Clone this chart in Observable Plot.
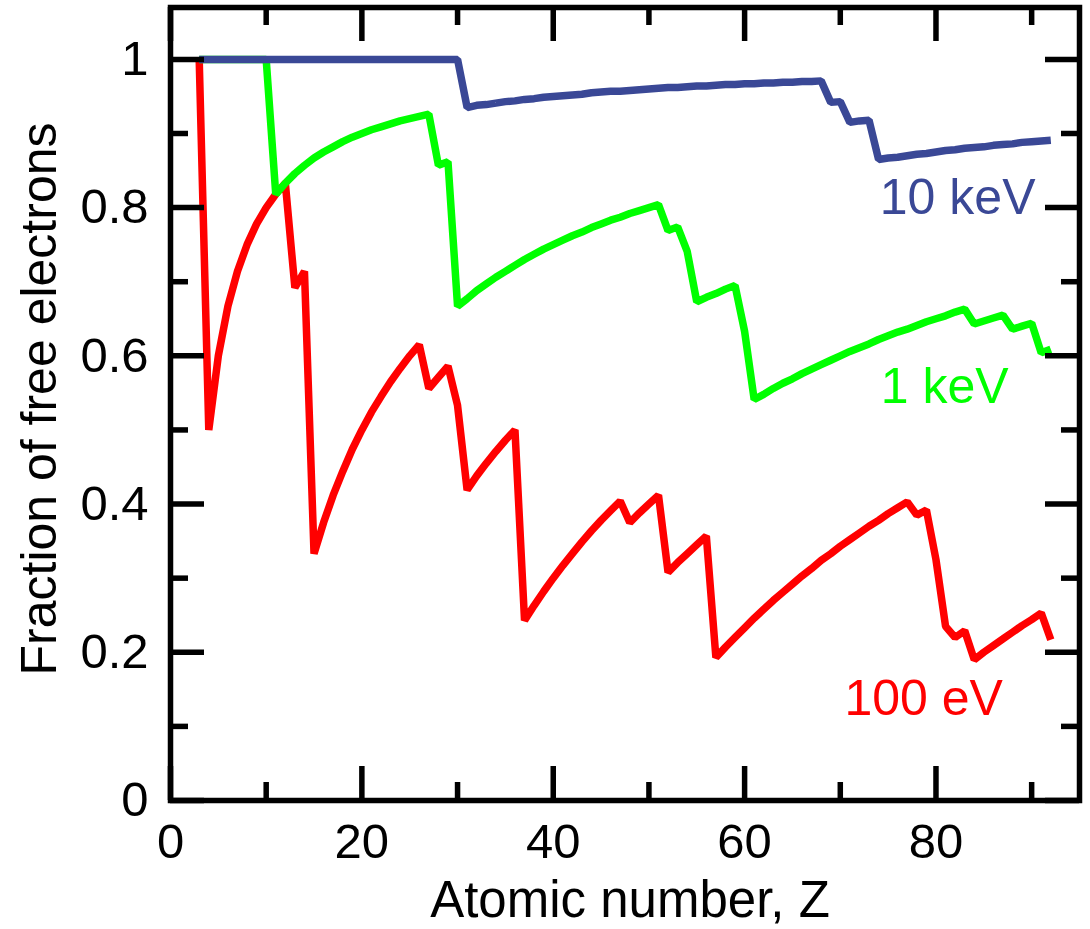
<!DOCTYPE html>
<html>
<head>
<meta charset="utf-8">
<script src="https://cdn.jsdelivr.net/npm/d3@7"></script>
<script src="https://cdn.jsdelivr.net/npm/@observablehq/plot@0.6"></script>
<style>
  html, body { margin: 0; padding: 0; background: #fff; }
  svg { display: block; }
</style>
</head>
<body>
<script>
// Atomic numbers
const atomicNumber = [3,4,5,6,7,8,9,10,11,12,13,14,15,16,17,18,19,20,21,22,23,24,25,26,27,28,29,30,
  31,32,33,34,35,36,37,38,39,40,41,42,43,44,45,46,47,48,49,50,51,52,53,54,55,56,57,58,59,60,
  61,62,63,64,65,66,67,68,69,70,71,72,73,74,75,76,77,78,79,80,81,82,83,84,85,86,87,88,89,90,91,92];

// Fraction of free electrons at 100 eV
const frac100eV = [1.000, 0.500, 0.600, 0.667, 0.714, 0.750, 0.778, 0.800, 0.818, 0.833,
  0.692, 0.714,
  0.333, 0.375, 0.412, 0.444, 0.474, 0.500, 0.524, 0.545, 0.565, 0.583, 0.600, 0.615,
  0.556, 0.571, 0.586,
  0.533,
  0.419, 0.438, 0.455, 0.471, 0.486, 0.500,
  0.243, 0.263, 0.282, 0.300, 0.317, 0.333, 0.349, 0.364, 0.378, 0.391, 0.404,
  0.375, 0.388, 0.400, 0.412,
  0.308, 0.321, 0.333, 0.345, 0.357,
  0.193, 0.207, 0.220, 0.233, 0.246, 0.258, 0.270, 0.281, 0.292, 0.303, 0.313, 0.324, 0.333, 0.343, 0.352, 0.361, 0.370, 0.378, 0.387, 0.395, 0.403,
  0.385, 0.392,
  0.325, 0.235, 0.220, 0.229,
  0.190, 0.200, 0.209, 0.218, 0.227, 0.236, 0.244, 0.253,
  0.217];

// Fraction of free electrons at 1 keV
const frac1keV = [1, 1, 1, 1, 1, 1, 1, 1,
  0.818, 0.833, 0.846, 0.857, 0.867, 0.875, 0.882, 0.889, 0.895, 0.900, 0.905, 0.909, 0.913, 0.917, 0.920, 0.923, 0.926,
  0.857, 0.862,
  0.667, 0.677, 0.688, 0.697, 0.706, 0.714, 0.722, 0.730, 0.737, 0.744, 0.750, 0.756, 0.762, 0.767, 0.773, 0.778, 0.783, 0.787, 0.792, 0.796, 0.800, 0.804,
  0.769, 0.774,
  0.741,
  0.673, 0.679, 0.684, 0.690, 0.695,
  0.633,
  0.541, 0.548, 0.556, 0.563, 0.569, 0.576, 0.582, 0.588, 0.594, 0.600, 0.606, 0.611, 0.616, 0.622, 0.627, 0.632, 0.636, 0.641, 0.646, 0.650, 0.654, 0.659, 0.663,
  0.643, 0.647, 0.651, 0.655,
  0.636, 0.640, 0.644,
  0.604, 0.609];

// Fraction of free electrons at 10 keV
const frac10keV = [1, 1, 1, 1, 1, 1, 1, 1, 1, 1, 1, 1, 1, 1, 1, 1, 1, 1, 1, 1, 1, 1, 1, 1, 1, 1, 1, 1,
  0.935, 0.938, 0.939, 0.941, 0.943, 0.944, 0.946, 0.947, 0.949, 0.950, 0.951, 0.952, 0.953, 0.955, 0.956, 0.957, 0.957, 0.958, 0.959,
  0.960, 0.961, 0.962, 0.962, 0.963, 0.964, 0.964, 0.965, 0.966, 0.966, 0.967, 0.967, 0.968, 0.968, 0.969, 0.969, 0.970, 0.970, 0.971,
  0.942, 0.943,
  0.915, 0.917, 0.918,
  0.865, 0.867, 0.868, 0.870, 0.872, 0.873, 0.875, 0.877, 0.878, 0.880, 0.881, 0.882, 0.884, 0.885, 0.886, 0.888, 0.889, 0.890, 0.891];

// Series labels and colours
const seriesNames = ["100 eV", "1 keV", "10 keV"];
const seriesColors = ["#ff0000", "#00ff00", "#3a4896"];
const labelZ = [87.0, 87.6, 90.4];
const labelFrac = [0.116, 0.537, 0.792];

// Tick values
const xMajorTicks = [0, 20, 40, 60, 80];
const xMinorTicks = [10, 30, 50, 70, 90];
const yMajorTicks = [0, 0.2, 0.4, 0.6, 0.8, 1];
const yMinorTicks = [0.1, 0.3, 0.5, 0.7, 0.9];

const seriesValues = [frac100eV, frac1keV, frac10keV];
const rows = seriesNames.map((name, s) => atomicNumber.map((z, i) => ({z, v: seriesValues[s][i], name})));
const labels = seriesNames.map((name, s) => ({name, z: labelZ[s], v: labelFrac[s], color: seriesColors[s]}));

const W = 1090, H = 929;
const mL = 170, mR = 11, mT = 7, mB = 129;
const plotW = W - mL - mR, plotH = H - mT - mB;
const longTick = 34, shortTick = 18, tickW = 5.5;
const font = "Liberation Sans, Arial, Helvetica, sans-serif";

const chart = Plot.plot({
  width: W,
  height: H,
  marginLeft: mL,
  marginRight: mR,
  marginTop: mT,
  marginBottom: mB,
  style: {fontFamily: font, background: "#fff"},
  x: {domain: [0, 95]},
  y: {domain: [0, 1.07]},
  marks: [
    ...rows.map((data, s) => Plot.line(data, {
      x: "z", y: "v", stroke: seriesColors[s], strokeWidth: 7.5,
      strokeLinejoin: "miter", strokeLinecap: "butt"
    })),
    Plot.text(labels, {
      x: "z", y: "v", text: "name", fill: "color", textAnchor: "end",
      lineAnchor: "bottom", fontSize: 50
    }),
    // bottom ticks
    Plot.tickX(xMajorTicks, {x: d => d, insetTop: plotH - longTick, stroke: "black", strokeWidth: tickW}),
    Plot.tickX(xMinorTicks, {x: d => d, insetTop: plotH - shortTick, stroke: "black", strokeWidth: tickW}),
    // top ticks
    Plot.tickX(xMajorTicks, {x: d => d, insetBottom: plotH - longTick, stroke: "black", strokeWidth: tickW}),
    Plot.tickX(xMinorTicks, {x: d => d, insetBottom: plotH - shortTick, stroke: "black", strokeWidth: tickW}),
    // left ticks
    Plot.tickY(yMajorTicks, {y: d => d, insetRight: plotW - longTick, stroke: "black", strokeWidth: tickW}),
    Plot.tickY(yMinorTicks, {y: d => d, insetRight: plotW - shortTick, stroke: "black", strokeWidth: tickW}),
    // right ticks
    Plot.tickY(yMajorTicks, {y: d => d, insetLeft: plotW - longTick, stroke: "black", strokeWidth: tickW}),
    Plot.tickY(yMinorTicks, {y: d => d, insetLeft: plotW - shortTick, stroke: "black", strokeWidth: tickW}),
    Plot.frame({stroke: "black", strokeWidth: tickW}),
    Plot.axisX({anchor: "bottom", ticks: xMajorTicks, tickSize: 0, tickPadding: 23, fontSize: 49,
      tickFormat: d => String(d), label: null, fill: "black"}),
    Plot.axisY({anchor: "left", ticks: yMajorTicks, tickSize: 0, tickPadding: 22, fontSize: 49,
      tickFormat: d => String(d), label: null, fill: "black"}),
    Plot.text(["Atomic number, Z"], {frameAnchor: "bottom", textAnchor: "middle", dx: 5, dy: 116,
      lineAnchor: "bottom", fontSize: 51, fill: "black"}),
    Plot.text(["Fraction of free electrons"], {frameAnchor: "left", textAnchor: "middle", rotate: -90,
      dx: -115, dy: -5, lineAnchor: "bottom", fontSize: 50, fill: "black"})
  ]
});

document.body.appendChild(chart);
</script>
</body>
</html>
